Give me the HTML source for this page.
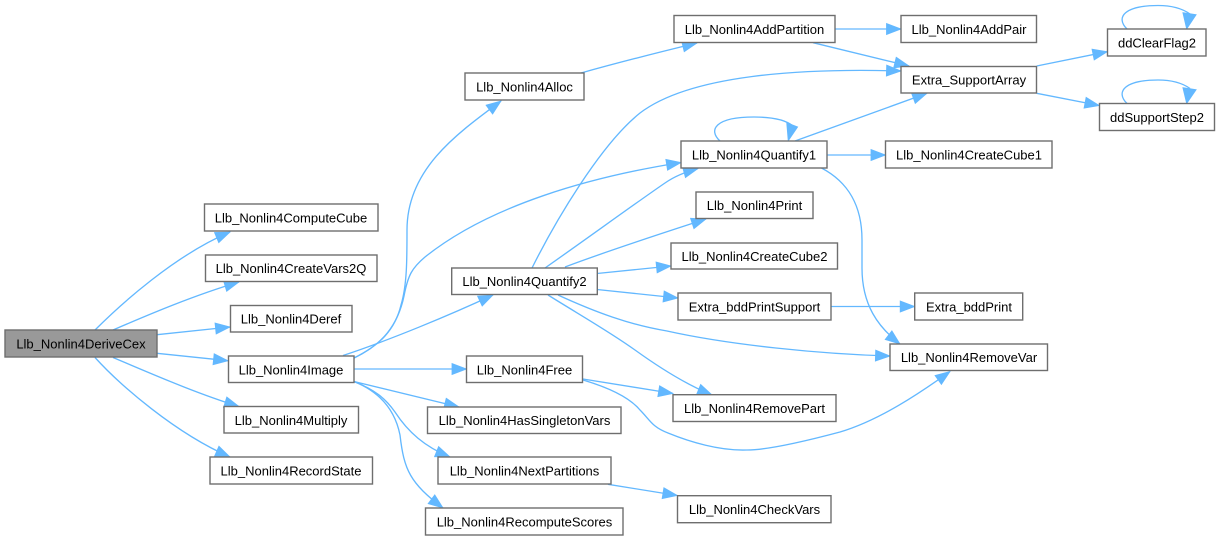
<!DOCTYPE html>
<html><head><meta charset="utf-8"><style>
html,body{margin:0;padding:0;background:#fff;width:1220px;height:540px;overflow:hidden}
svg{display:block;filter:blur(.25px)}
rect{fill:#fff;stroke:#6e6e6e;stroke-width:1.4}
text{font-family:"Liberation Sans",Arial,sans-serif;font-size:13px;text-anchor:middle;fill:#000}
path.e{fill:none;stroke:#63b8ff;stroke-width:1.33;marker-end:url(#a)}
path.s{fill:none;stroke:#63b8ff;stroke-width:1.33}
polygon{fill:#63b8ff;stroke:#63b8ff;stroke-width:1}
</style></head><body>
<svg width="1220" height="540" viewBox="0 0 1220 540" xmlns="http://www.w3.org/2000/svg">
<defs><marker id="a" markerUnits="userSpaceOnUse" markerWidth="18" markerHeight="14" refX="16" refY="7" orient="auto"><path d="M1.5,1.5 L16,7 L1.5,12.5 Z" fill="#63b8ff" stroke="#63b8ff" stroke-width="0.8"/></marker></defs>

<path class="e" d="M95,330 C120,305 175,255 230,232"/>
<path class="e" d="M113,330 C150,314 195,295 239,282"/>
<path class="e" d="M157,334.7 L230,327"/>
<path class="e" d="M157,353.3 L228,360.7"/>
<path class="e" d="M113,357.5 C150,373 195,393 239,406.5"/>
<path class="e" d="M95,357.5 C120,385 175,433 230,457"/>

<path class="e" d="M354,358 C380,345 395,330 401,305 C407,285 407,260 407,230 C407,170 455,135 501,101"/>
<path class="e" d="M354,358 C382,345 398,325 404,296 C408,275 412,268 425,257 C490,205 590,177 681,162.5"/>
<path class="e" d="M343,355.5 C390,340 450,315 493,295"/>
<path class="e" d="M354,369 L466.5,369"/>
<path class="e" d="M354,381.5 L459,407"/>
<path class="e" d="M354,381.5 C375,390 385,398 395,412 C408,432 425,447 450,457"/>
<path class="e" d="M354,381.5 C380,392 395,410 400,435 C404,470 410,483 443,508"/>

<path class="e" d="M581,73 C620,62 660,52 697,43"/>
<path class="e" d="M835,29 L901,29"/>
<path class="e" d="M813,42.7 L909,66"/>
<path class="e" d="M532,268 C555,222 600,145 640,113 C690,75 800,68 901,71"/>
<path class="e" d="M795,141 L927,93.3"/>
<path class="e" d="M1036.7,66 L1107.3,51.7"/>
<path class="e" d="M1036.7,93.3 L1099.3,105.5"/>
<path class="e" d="M827,155 L885.5,155"/>
<path class="e" d="M821.5,168 C848,182 862,205 862,240 L862,268 C862,305 878,327 900,344"/>
<path class="e" d="M545,268 C585,240 640,200 665,183 C675,176 685,172 698,168.5"/>
<path class="e" d="M565,267 C610,250 660,234 706,219"/>
<path class="e" d="M597,273.5 L671,266"/>
<path class="e" d="M597,289.5 L678,298"/>
<path class="e" d="M548,295 C580,315 610,332 635,350 C660,368 685,384 712,395"/>
<path class="e" d="M558,295 C595,312 630,325 667,331 C730,345 820,354 890,356"/>
<path class="e" d="M831,306.5 L914.7,306.5"/>
<path class="e" d="M583,379 L673,393.5"/>
<path class="e" d="M583,380 C610,388 630,398 640,410 C650,420 652,427 668,433 C690,442 720,451 747,450 C770,450 810,440 840,432 C880,420 920,393 950,371.5"/>
<path class="e" d="M608,484.3 L677.3,495.5"/>

<path class="s" d="M720,141 C708,130 715,117 754,117 C772,117 786,120 793,126"/>
<polygon points="786.8,122.8 797.5,127 788.3,140.5"/>
<path class="s" d="M1127,29 C1115,17 1125,5.5 1158,5.5 C1172,5.5 1183,9 1190,14"/>
<polygon points="1183,12.8 1196,14.7 1186.7,28.8"/>
<path class="s" d="M1127,103.5 C1115,91.5 1125,80 1158,80 C1172,80 1183,83.5 1190,88.5"/>
<polygon points="1183,87.8 1196,89.7 1186.7,103.3"/>

<rect x="5" y="330" width="152" height="27" style="fill:#999"/><text x="81" y="348.5">Llb_Nonlin4DeriveCex</text>
<rect x="204.5" y="204" width="173.5" height="27"/><text x="291" y="222.5">Llb_Nonlin4ComputeCube</text>
<rect x="205.5" y="255" width="171.5" height="26.5"/><text x="291" y="273">Llb_Nonlin4CreateVars2Q</text>
<rect x="230.5" y="305.5" width="121.5" height="26.5"/><text x="291" y="323.5">Llb_Nonlin4Deref</text>
<rect x="228.5" y="356" width="125.5" height="26.5"/><text x="291" y="374.5">Llb_Nonlin4Image</text>
<rect x="224" y="406.5" width="134.5" height="26.5"/><text x="291" y="425">Llb_Nonlin4Multiply</text>
<rect x="210" y="457" width="162.5" height="27"/><text x="291" y="475.5">Llb_Nonlin4RecordState</text>
<rect x="465" y="73" width="119" height="27"/><text x="524.5" y="91.5">Llb_Nonlin4Alloc</text>
<rect x="674" y="15.5" width="161" height="27"/><text x="754.5" y="34">Llb_Nonlin4AddPartition</text>
<rect x="901" y="15.5" width="135.5" height="27"/><text x="969" y="34">Llb_Nonlin4AddPair</text>
<rect x="901" y="66.5" width="135.5" height="26.5"/><text x="969" y="84.5">Extra_SupportArray</text>
<rect x="1107.5" y="29" width="98.5" height="27"/><text x="1157" y="47.5">ddClearFlag2</text>
<rect x="1099.5" y="103.5" width="115" height="27"/><text x="1157" y="122">ddSupportStep2</text>
<rect x="681" y="141" width="146" height="27"/><text x="754" y="159.5">Llb_Nonlin4Quantify1</text>
<rect x="885.5" y="141" width="166.5" height="27"/><text x="969" y="159.5">Llb_Nonlin4CreateCube1</text>
<rect x="696" y="192" width="117" height="26.5"/><text x="754.5" y="210">Llb_Nonlin4Print</text>
<rect x="671" y="243" width="166.5" height="26"/><text x="754.5" y="261">Llb_Nonlin4CreateCube2</text>
<rect x="451.7" y="268" width="145.6" height="26.5"/><text x="524.5" y="286">Llb_Nonlin4Quantify2</text>
<rect x="678" y="293" width="153" height="27"/><text x="754.5" y="311.5">Extra_bddPrintSupport</text>
<rect x="914.7" y="293" width="108" height="27"/><text x="969" y="311.5">Extra_bddPrint</text>
<rect x="890" y="344" width="157.5" height="26.5"/><text x="969" y="362">Llb_Nonlin4RemoveVar</text>
<rect x="466.5" y="356" width="116" height="26.5"/><text x="524.5" y="374.5">Llb_Nonlin4Free</text>
<rect x="673" y="394.7" width="163" height="26.8"/><text x="754.5" y="413">Llb_Nonlin4RemovePart</text>
<rect x="427.5" y="407" width="193.5" height="26.5"/><text x="524.5" y="425">Llb_Nonlin4HasSingletonVars</text>
<rect x="438" y="457" width="173" height="27"/><text x="524.5" y="475.5">Llb_Nonlin4NextPartitions</text>
<rect x="425.5" y="508" width="197.5" height="27"/><text x="524.5" y="526.5">Llb_Nonlin4RecomputeScores</text>
<rect x="677.5" y="495.7" width="153.5" height="27"/><text x="754.5" y="514">Llb_Nonlin4CheckVars</text>
</svg>
</body></html>
